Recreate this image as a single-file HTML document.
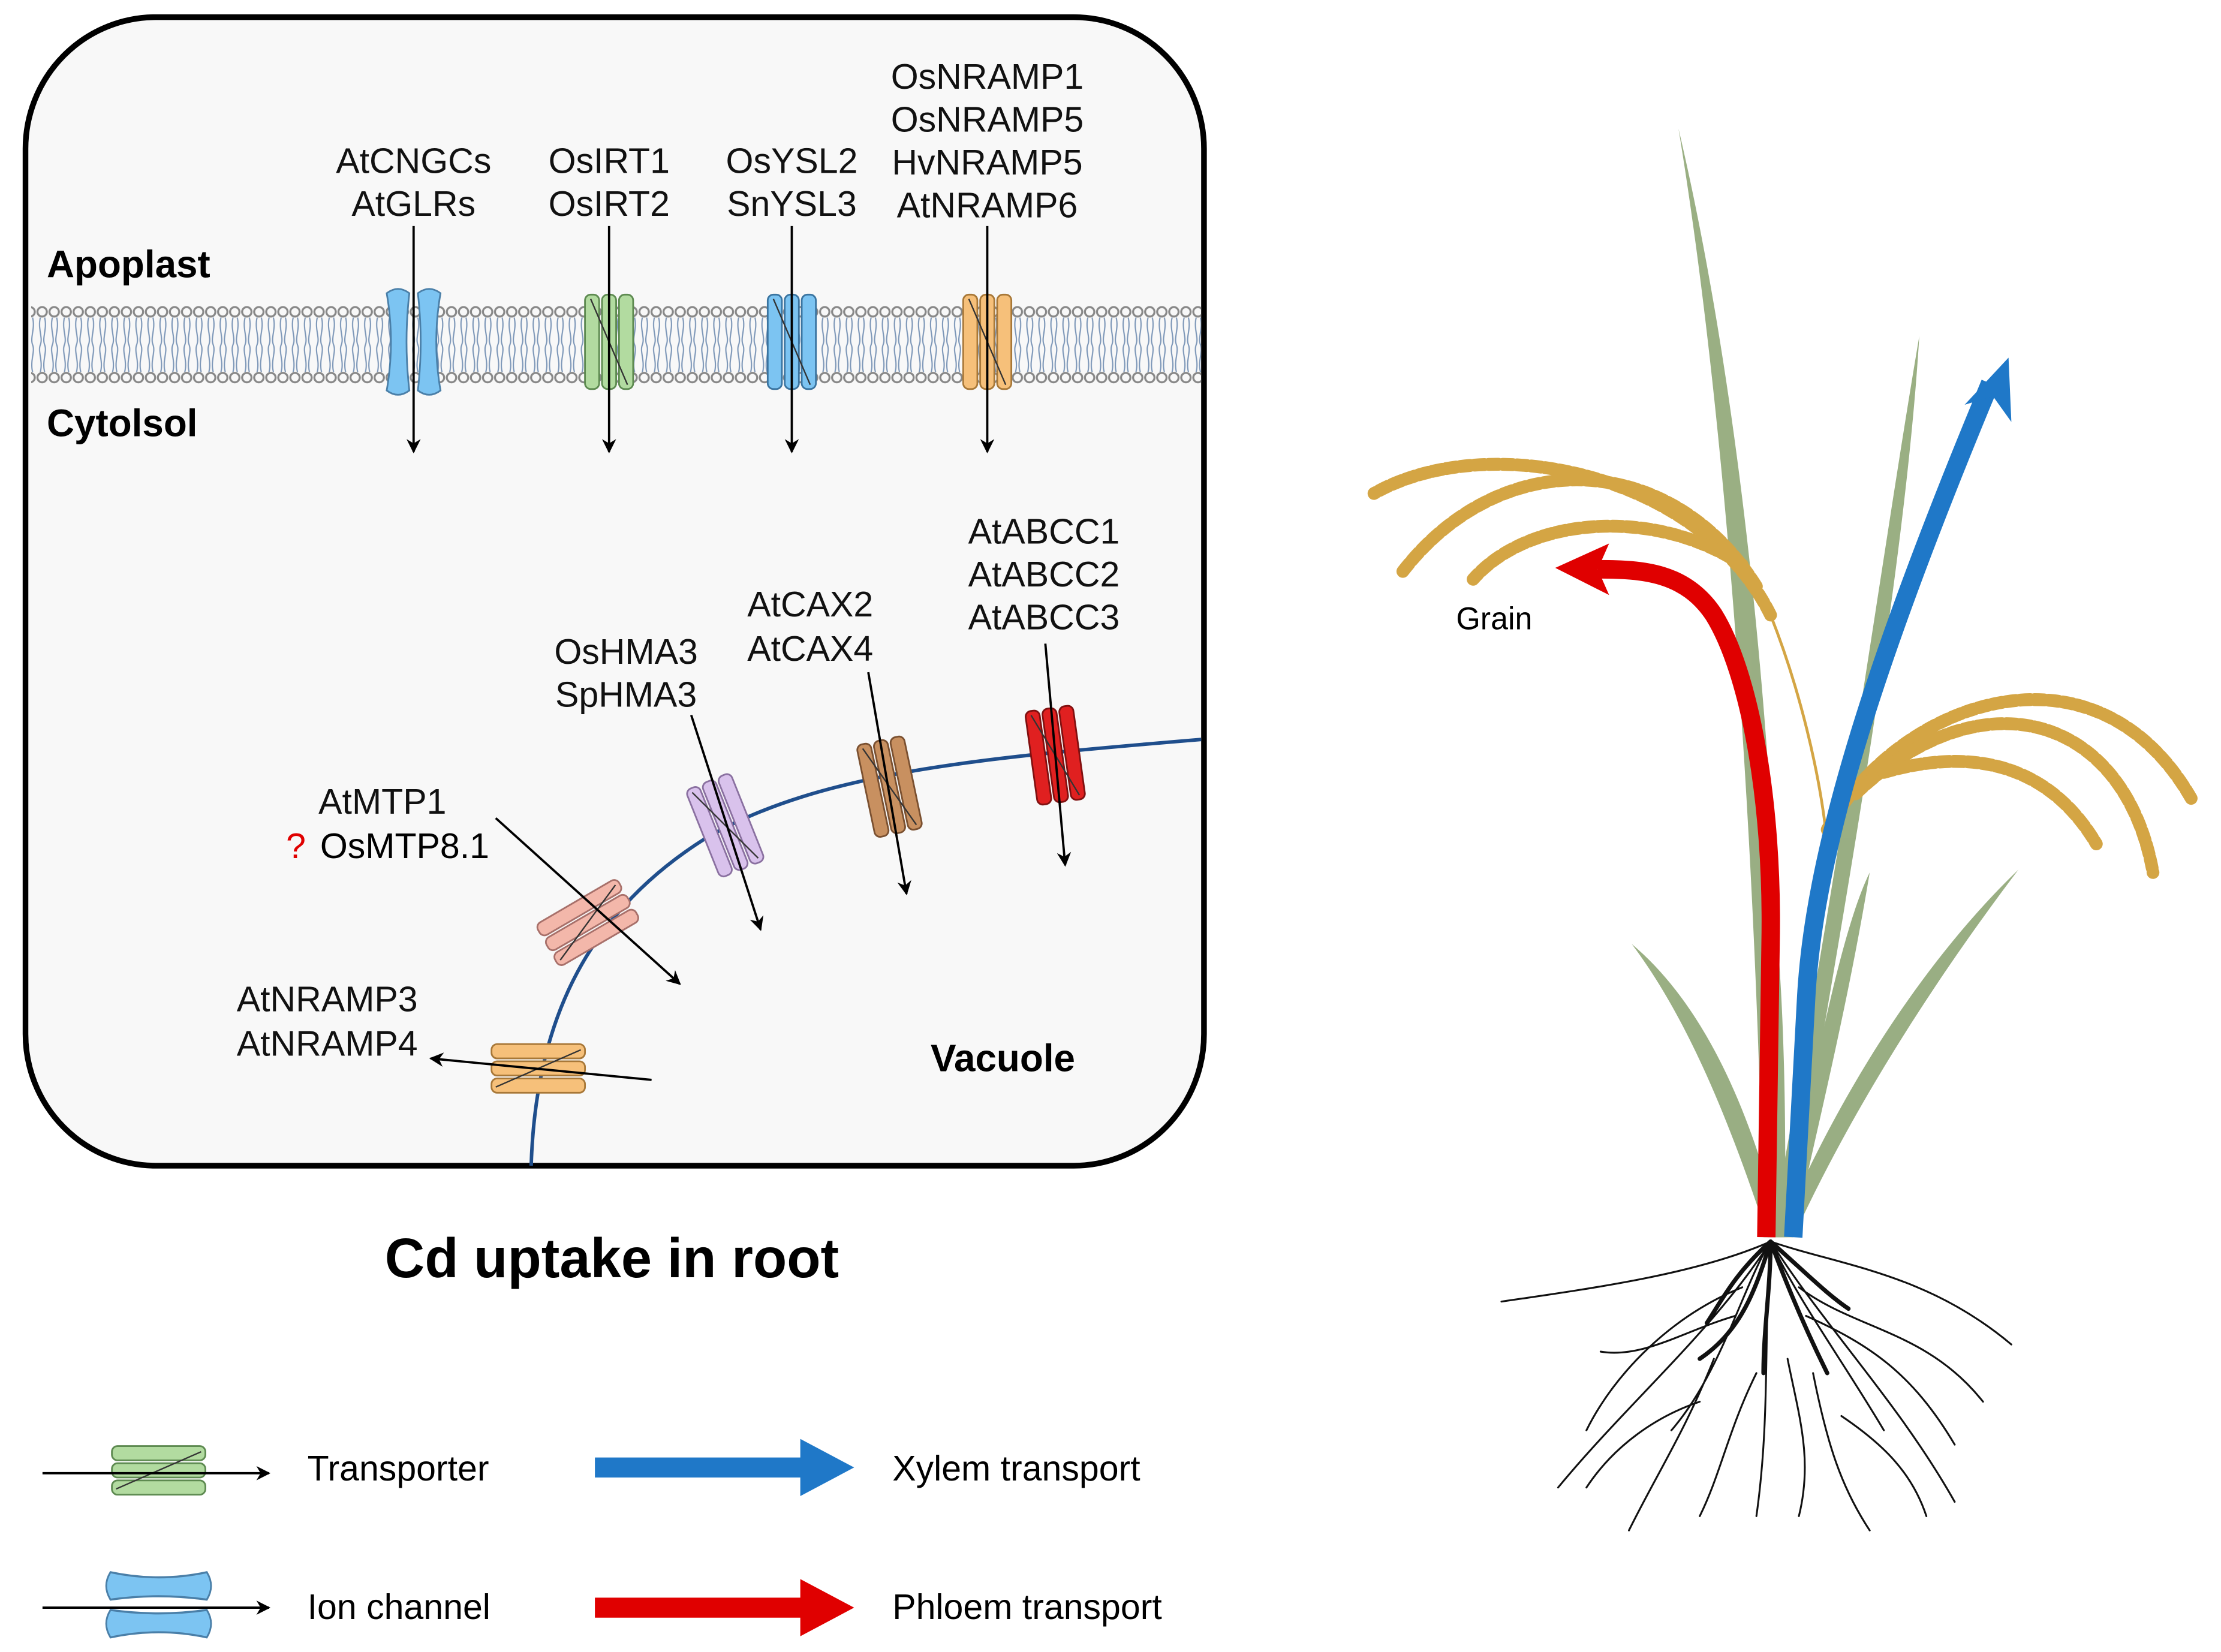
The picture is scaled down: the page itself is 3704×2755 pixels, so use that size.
<!DOCTYPE html>
<html><head><meta charset="utf-8"><style>html,body{margin:0;padding:0;background:#fff}svg{display:block}text{font-family:"Liberation Sans",Arial,sans-serif}</style></head><body>
<svg width="3704" height="2755" viewBox="0 0 1568 1155" preserveAspectRatio="none" xmlns="http://www.w3.org/2000/svg">
<defs>
<pattern id="mem" x="0" y="212" width="8.5" height="58" patternUnits="userSpaceOnUse">
<circle cx="4.25" cy="6" r="3.3" fill="none" stroke="#888" stroke-width="1.4"/>
<circle cx="4.25" cy="52" r="3.3" fill="none" stroke="#888" stroke-width="1.4"/>
<path d="M3 10 C1 18,5 24,3 29 C1 34,5 40,3 48 M6 10 C8 18,4 24,6 29 C8 34,4 40,6 48" fill="none" stroke="#7d97b8" stroke-width="0.9"/>
</pattern>
<marker id="ah" markerWidth="10" markerHeight="10" refX="9" refY="5" orient="auto" markerUnits="userSpaceOnUse"><path d="M0 0 L10 5 L0 10 L3 5Z" fill="#000"/></marker>
<g id="tr"><rect x="-17" y="-33" width="10" height="66" rx="4"/><rect x="-5" y="-33" width="10" height="66" rx="4"/><rect x="7" y="-33" width="10" height="66" rx="4"/><path d="M-13 -30 L13 30" fill="none" stroke="#333" stroke-width="1"/></g>
<g id="ch"><path d="M-19 -34 Q-11 -40 -3 -34 Q-7 0 -3 34 Q-11 40 -19 34 Q-13 0 -19 -34Z"/><path d="M19 -34 Q11 -40 3 -34 Q7 0 3 34 Q11 40 19 34 Q13 0 19 -34Z"/></g>
</defs>
<rect x="18" y="12" width="832" height="803" rx="92" fill="#f8f8f8" stroke="#000" stroke-width="4"/>
<rect x="22" y="212" width="826" height="58" fill="url(#mem)"/>
<text x="33" y="194" font-size="27" font-weight="bold">Apoplast</text>
<text x="33" y="305" font-size="27" font-weight="bold">Cytolsol</text>
<g font-size="25" text-anchor="middle" fill="#111">
<text x="292" y="121">AtCNGCs</text><text x="292" y="151">AtGLRs</text>
<text x="430" y="121">OsIRT1</text><text x="430" y="151">OsIRT2</text>
<text x="559" y="121">OsYSL2</text><text x="559" y="151">SnYSL3</text>
<text x="697" y="62">OsNRAMP1</text><text x="697" y="92">OsNRAMP5</text><text x="697" y="122">HvNRAMP5</text><text x="697" y="152">AtNRAMP6</text>
<text x="442" y="464">OsHMA3</text><text x="442" y="494">SpHMA3</text>
<text x="572" y="431">AtCAX2</text><text x="572" y="462">AtCAX4</text>
<text x="737" y="380">AtABCC1</text><text x="737" y="410">AtABCC2</text><text x="737" y="440">AtABCC3</text>
<text x="270" y="569">AtMTP1</text>
<text x="231" y="707">AtNRAMP3</text><text x="231" y="738">AtNRAMP4</text>
</g>
<text x="202" y="600" font-size="25" fill="#e00000">?</text>
<text x="226" y="600" font-size="25">OsMTP8.1</text>
<text x="657" y="749" font-size="27" font-weight="bold">Vacuole</text>
<use href="#ch" x="292" y="239" fill="#7cc4f2" stroke="#4a7fa8" stroke-width="1.2"/>
<use href="#tr" x="430" y="239" fill="#b2dba0" stroke="#5d8a50" stroke-width="1.2"/>
<use href="#tr" x="559" y="239" fill="#7cc4f2" stroke="#3a74a0" stroke-width="1.2"/>
<use href="#tr" x="697" y="239" fill="#f6c07a" stroke="#a87838" stroke-width="1.2"/>
<g stroke="#000" stroke-width="1.6" marker-end="url(#ah)">
<line x1="292" y1="158" x2="292" y2="316"/><line x1="430" y1="158" x2="430" y2="316"/><line x1="559" y1="158" x2="559" y2="316"/><line x1="697" y1="158" x2="697" y2="316"/>
</g>
<path d="M375 815 C378 720,410 640,500 585 C580 540,690 530,848 517" fill="none" stroke="#1f4e8c" stroke-width="2.5"/>
<use href="#tr" transform="translate(380 747) rotate(90)" fill="#f6c07a" stroke="#a87838" stroke-width="1.2"/>
<use href="#tr" transform="translate(415 645) rotate(60)" fill="#f3b7aa" stroke="#a8706a" stroke-width="1.2"/>
<use href="#tr" transform="translate(512 577) rotate(-22)" fill="#d9c2ec" stroke="#8a70a0" stroke-width="1.2"/>
<use href="#tr" transform="translate(628 550) rotate(-12)" fill="#c89060" stroke="#7a5030" stroke-width="1.2"/>
<use href="#tr" transform="translate(745 528) rotate(-8)" fill="#e02020" stroke="#801010" stroke-width="1.2"/>
<g stroke="#000" stroke-width="1.6" marker-end="url(#ah)">
<line x1="460" y1="755" x2="304" y2="740"/><line x1="350" y1="572" x2="480" y2="688"/><line x1="488" y1="500" x2="537" y2="650"/><line x1="613" y1="470" x2="640" y2="625"/><line x1="738" y1="450" x2="752" y2="605"/>
</g>
<text x="432" y="893" font-size="39" font-weight="bold" text-anchor="middle">Cd uptake in root</text>
<use href="#tr" transform="translate(112 1028) rotate(90)" fill="#b2dba0" stroke="#5d8a50" stroke-width="1.2"/>
<line x1="30" y1="1030" x2="190" y2="1030" stroke="#000" stroke-width="1.6" marker-end="url(#ah)"/>
<use href="#ch" transform="translate(112 1122) rotate(90) scale(1.2,1)" fill="#7cc4f2" stroke="#4a7fa8" stroke-width="1.2"/>
<line x1="30" y1="1124" x2="190" y2="1124" stroke="#000" stroke-width="1.6" marker-end="url(#ah)"/>
<text x="217" y="1035" font-size="25">Transporter</text>
<text x="217" y="1132" font-size="25">Ion channel</text>
<path d="M420 1019 H565 V1006 L603 1026 L565 1046 V1033 H420Z" fill="#1f78c8"/>
<path d="M420 1117 H565 V1104 L603 1124 L565 1144 V1131 H420Z" fill="#e00000"/>
<text x="630" y="1035" font-size="25">Xylem transport</text>
<text x="630" y="1132" font-size="25">Phloem transport</text>
<!-- plant -->
<g fill="#8fa676" opacity="0.9">
<path d="M1245 865 C1240 600,1220 300,1185 90 C1235 300,1262 600,1258 865Z"/>
<path d="M1250 865 C1300 600,1330 380,1355 235 C1345 400,1300 650,1262 865Z"/>
<path d="M1248 865 C1220 780,1190 710,1152 660 C1200 700,1235 770,1258 865Z"/>
<path d="M1255 865 C1300 760,1360 670,1425 608 C1370 680,1310 770,1266 865Z"/>
<path d="M1248 865 C1250 700,1240 580,1232 515 C1256 600,1262 720,1260 865Z"/>
<path d="M1258 865 C1280 750,1300 650,1320 610 C1305 700,1285 780,1266 865Z"/>
</g>
<g fill="none" stroke="#d4a544" stroke-width="9" stroke-linecap="round" stroke-dasharray="7 3">
<path d="M1250 430 C1200 330,1050 300,970 345"/>
<path d="M1240 410 C1180 315,1060 310,990 400"/>
<path d="M1230 395 C1170 355,1080 360,1040 405"/>
<path d="M1290 580 C1340 490,1480 440,1548 560"/>
<path d="M1310 555 C1400 470,1500 500,1520 610"/>
<path d="M1330 540 C1400 520,1450 540,1480 590"/>
</g>
<path d="M1250 430 C1270 480,1285 540,1290 590" fill="none" stroke="#d4a544" stroke-width="2"/>
<g fill="none" stroke="#111" stroke-linecap="round">
<path d="M1250 868 C1230 900,1215 960,1180 1000 M1250 868 C1270 910,1300 950,1330 1000 M1250 868 C1200 890,1130 900,1060 910 M1250 868 C1300 885,1360 890,1420 940 M1250 868 C1245 930,1250 990,1240 1060 M1250 868 C1210 930,1150 980,1100 1040 M1250 868 C1290 930,1340 980,1380 1050 M1230 900 C1180 920,1140 960,1120 1000 M1270 900 C1310 930,1360 930,1400 980 M1210 950 C1190 1000,1170 1030,1150 1070 M1280 960 C1290 1010,1300 1040,1320 1070 M1225 920 C1190 930,1160 950,1130 945 M1275 920 C1320 940,1350 960,1380 1010 M1240 960 C1220 1000,1215 1030,1200 1060 M1262 950 C1270 990,1280 1020,1270 1060 M1200 980 C1170 990,1140 1010,1120 1040 M1300 990 C1330 1010,1350 1030,1360 1060" stroke-width="1.3"/>
<path d="M1250 868 C1240 900,1230 930,1200 950 M1250 868 C1262 900,1275 930,1290 960 M1250 868 C1250 900,1245 930,1245 960 M1250 868 C1225 890,1215 910,1205 925 M1250 868 C1275 890,1290 905,1305 915" stroke-width="3"/>
</g>
<path d="M1247 865 L1250 660 C1252 560,1235 470,1210 430 C1190 400,1160 398,1128 398" fill="none" stroke="#e00000" stroke-width="13"/>
<path d="M1098 397 L1136 380 L1128 398 L1136 416Z" fill="#e00000"/>
<path d="M1266 865 L1275 700 C1280 600,1320 470,1405 268" fill="none" stroke="#1f78c8" stroke-width="13"/>
<path d="M1418 250 L1420 295 L1407 277 L1387 283Z" fill="#1f78c8"/>
<text x="1028" y="440" font-size="22">Grain</text>
</svg>
</body></html>
